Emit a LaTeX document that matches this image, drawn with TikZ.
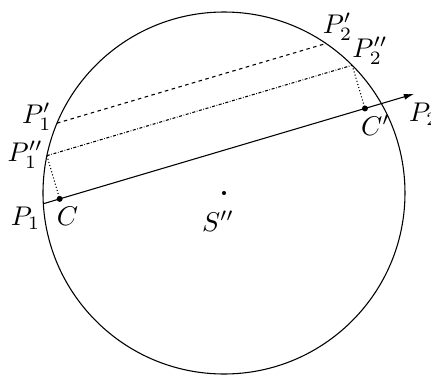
\documentclass[tikz,border=0pt]{standalone}
\usepackage{amsmath, amssymb}
\usepackage{tikz}
\usetikzlibrary{arrows.meta, calc}
\tikzset{lbl/.style={inner sep=0pt, anchor=center},
  ptdot/.style={fill=black},
  dashln/.style={thin, dash pattern=on 1.3pt off 1.3pt},
  dashdotln/.style={thin, dash pattern=on 1.1pt off 0.6pt on 0.25pt off 0.6pt},
  dotln/.style={thin, dash pattern=on 0.4pt off 0.8pt}}

\begin{document}
\begin{tikzpicture}
\useasboundingbox (-2.912,-2.392) rectangle (2.691,2.509);
% ====== the circle and its centre S'' ======
\def\R{2.353}
\draw[thin] (0,0) circle (\R);
\coordinate (S) at (0,0);
\fill[ptdot] (S) circle (0.75pt);
\node[lbl] (lS) at ($(S)+(-0.078,-0.364)$) {$S''$};
% ====== points on the circle ======
\coordinate (P1) at (183.4:\R);
\coordinate (P2) at (29.6:\R);
\coordinate (P1pp) at (168.1:\R);
\coordinate (P2pp) at (44.9:\R);
\coordinate (P1p) at (157.3:\R);
\coordinate (P2p) at (55.7:\R);
% feet of the perpendiculars on P1--P2
\coordinate (C) at ($(P1)!(P1pp)!(P2)$);
\coordinate (Cp) at ($(P1)!(P2pp)!(P2)$);
\coordinate (tip) at ($(P1)!1.097!(P2)$);
% ====== chords ======
\draw[thin, -{Latex[length=3.8pt, width=2.2pt]}] (P1) -- (tip);
\draw[dashdotln] (P1pp) -- (P2pp);
\draw[dashln] (P1p) -- (P2p);
\draw[dotln] (P1pp) -- (C);
\draw[dotln] (P2pp) -- (Cp);
\fill[ptdot] (C) circle (1.1pt);
\fill[ptdot] (Cp) circle (1.1pt);
% ====== labels ======
\node[lbl] (lP1) at ($(P1)+(-0.231,-0.191)$) {$P_1$};
\node[lbl] (lP1pp) at ($(P1pp)+(-0.282,0.01)$) {$P''_1$};
\node[lbl] (lP1p) at ($(P1p)+(-0.263,0.081)$) {$P'_1$};
\node[lbl] (lC) at ($(C)+(0.101,-0.230)$) {$C$};
\node[lbl] (lCp) at ($(Cp)+(0.139,-0.221)$) {$C'$};
\node[lbl] (lP2) at ($(tip)+(0.126,-0.269)$) {$P_2$};
\node[lbl] (lP2p) at ($(P2p)+(0.150,0.218)$) {$P'_2$};
\node[lbl] (lP2pp) at ($(P2pp)+(0.230,0.191)$) {$P''_2$};
\end{tikzpicture}
\end{document}
